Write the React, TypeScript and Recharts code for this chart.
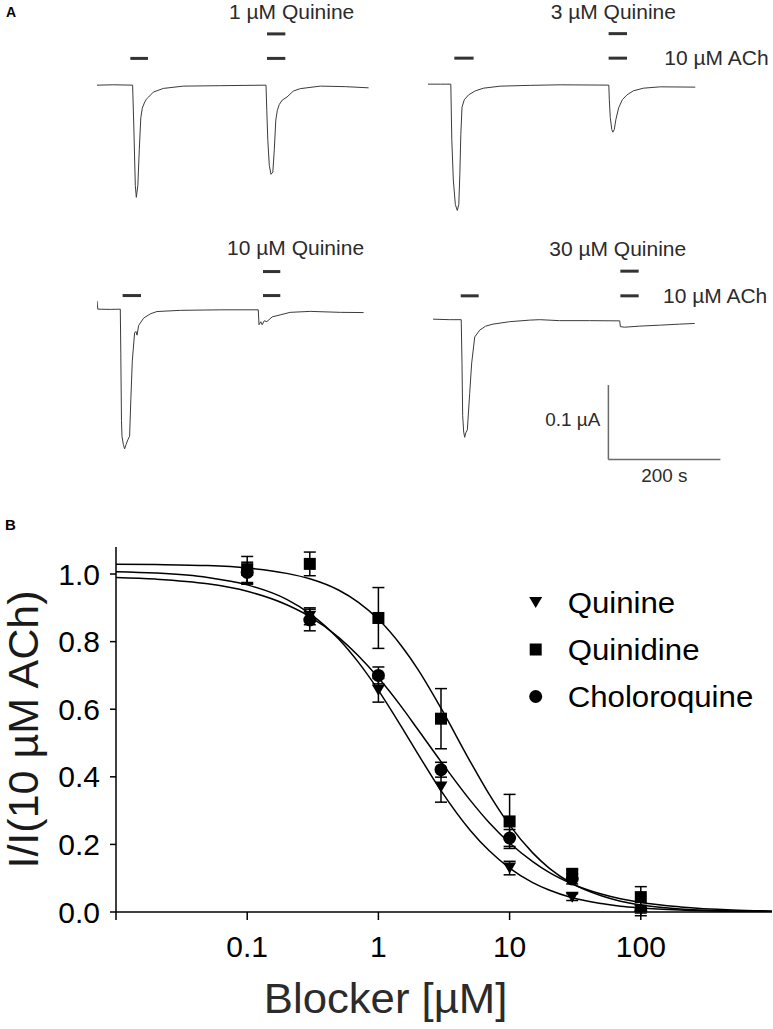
import React from 'react';
import {
  LineChart,
  Line,
  XAxis,
  YAxis,
  ReferenceLine,
  ReferenceDot,
  ComposedChart,
  Scatter,
  ErrorBar,
  Legend,
} from 'recharts';

const FONT = '"Liberation Sans", Arial, Helvetica, sans-serif';

// ---------------- Panel A : current traces (time s, current µA) ----------------
const trace1Raw: number[][] = [
  [0, 0], [30, 0.0005], [63.6, 0], [65.7, -0.055], [68.4, -0.135], [70.2, -0.151], [72.9, -0.135],
  [75.5, -0.087], [78.2, -0.044], [80.9, -0.031], [84.5, -0.024], [88, -0.019], [92.1, -0.016],
  [100.5, -0.0094], [118.4, -0.0044], [154, -0.0013], [220, -0.0007], [301.8, 0], [303.2, -0.034],
  [305, -0.074], [307.7, -0.108], [310.7, -0.12], [314, -0.117], [316.6, -0.087], [319.3, -0.047],
  [322, -0.034], [325.5, -0.026], [330.9, -0.02], [339.3, -0.016], [350.5, -0.008], [363, -0.0047],
  [398.8, -0.0013], [443.4, -0.002], [485, -0.0036],
];
const trace2Raw: number[][] = [
  [0, 0], [22, 0], [40.7, 0], [42.5, -0.075], [45.2, -0.129], [48.8, -0.162], [52.3, -0.17], [55, -0.162],
  [56.8, -0.122], [58.6, -0.068], [60.7, -0.031], [64.8, -0.021], [72.5, -0.0144], [84.5, -0.009],
  [99.3, -0.0054], [129, -0.0027], [182.7, -0.0016], [236, -0.0009], [322.9, -0.0013], [323.8, -0.021],
  [325.5, -0.045], [328.2, -0.061], [330, -0.0646], [332.7, -0.061], [335.4, -0.048], [340.4, -0.032],
  [347, -0.021], [355.4, -0.0144], [366.6, -0.009], [385, -0.0054], [414.8, -0.0036], [477.3, -0.004],
];
const trace3Raw: number[][] = [
  [0, 0.0112], [1.4, 0], [23.8, -0.0003], [41.6, 0], [42.5, -0.06], [43.7, -0.15], [44.6, -0.171],
  [47, -0.182], [49.3, -0.188], [52, -0.182], [55, -0.176], [58.2, -0.171], [60.5, -0.12], [63, -0.07],
  [67.1, -0.032], [69.5, -0.03], [71.5, -0.035], [74.3, -0.022], [83.2, -0.0121], [95.2, -0.0063],
  [107.1, -0.0032], [148.8, -0.0016], [220.2, -0.0009], [288, -0.0009], [289.3, -0.021], [292.5, -0.017],
  [295, -0.021], [298.6, -0.0157], [303.4, -0.0167], [312.9, -0.0104], [327.1, -0.0077], [345, -0.0043],
  [380.7, -0.003], [434.5, -0.0043], [476, -0.0046],
];
const trace4Raw: number[][] = [
  [0, 0], [29.8, -0.0007], [50.4, -0.0007], [51.8, -0.06], [53, -0.13], [54.8, -0.152], [56.6, -0.159],
  [58.5, -0.153], [61.3, -0.149], [65.5, -0.1], [69.1, -0.059], [74.5, -0.024], [83.4, -0.0148],
  [94.1, -0.0094], [107.1, -0.0067], [137, -0.0034], [172.7, -0.0013], [190.5, -0.0007], [226.2, -0.002],
  [279.8, -0.002], [333.4, -0.0023], [334.6, -0.0101], [342.3, -0.0108], [369.1, -0.0094],
  [404.8, -0.0081], [440.5, -0.0067], [467.3, -0.0058],
];

const traceTitles = ['1 µM Quinine', '3 µM Quinine', '10 µM Quinine', '30 µM Quinine'];
const achText = '10 µM ACh';
// ACh application windows [start s, end s]
const achWindows: number[][][] = [
  [[59.5, 91], [303.6, 336.3]],
  [[47, 81.4], [322.5, 355.4]],
  [[45.7, 78.6], [296.4, 327.3]],
  [[49.5, 81.6], [334.6, 367.3]],
];
// Quinine co-application window
const drugWindows: number[][] = [
  [303.6, 336.3],
  [322.5, 355.4],
  [296.4, 327.3],
  [334.6, 367.3],
];
const scaleBarCurrent = 0.1; // µA
const scaleBarTime = 200; // s
const scaleBarTexts = ['0.1 µA', '200 s'];

// ---------------- Panel B : concentration–response ----------------
const curveX = [0.01, 0.02, 0.05, 0.1, 0.2, 0.3, 0.5, 0.7, 1, 1.5, 2, 3, 5, 7, 10, 15, 20, 30, 50, 70, 100, 200, 500, 1000];
const quinineCurveY = [1.007, 1.003, 0.99, 0.968, 0.925, 0.883, 0.807, 0.74, 0.656, 0.548, 0.468, 0.359, 0.242, 0.181, 0.13, 0.087, 0.065, 0.042, 0.025, 0.017, 0.012, 0.006, 0.002, 0.001];
const quinidineCurveY = [1.029, 1.028, 1.025, 1.018, 1.002, 0.986, 0.952, 0.917, 0.866, 0.787, 0.718, 0.603, 0.446, 0.348, 0.257, 0.175, 0.13, 0.084, 0.048, 0.032, 0.021, 0.009, 0.003, 0.001];
const chloroquineCurveY = [0.99, 0.985, 0.971, 0.949, 0.909, 0.874, 0.812, 0.759, 0.693, 0.607, 0.54, 0.445, 0.331, 0.264, 0.204, 0.149, 0.117, 0.083, 0.053, 0.039, 0.028, 0.015, 0.006, 0.003];

const doseX = [0.1, 0.3, 1, 3, 10, 30, 100];
const quinineMean = [1.0, 0.875, 0.656, 0.37, 0.13, 0.044, 0.005];
const quinineErr = [0.03, 0.025, 0.035, 0.045, 0.02, 0.01, 0.008];
const quinidineMean = [1.012, 1.03, 0.87, 0.572, 0.268, 0.113, 0.044];
const quinidineErr = [0.04, 0.035, 0.09, 0.089, 0.08, 0.012, 0.031];
const chloroquineMean = [1.005, 0.864, 0.7, 0.421, 0.219, 0.098, 0.004];
const chloroquineErr = [0.03, 0.032, 0.025, 0.022, 0.025, 0.015, 0.015];

const seriesNames = ['Quinine', 'Quinidine', 'Choloroquine'];
const xTicks = [0.01, 0.1, 1, 10, 100];
const yTicks = [0, 0.2, 0.4, 0.6, 0.8, 1.0];
const xTitle = 'Blocker [µM]';
const yTitle = 'I/I(10 µM ACh)';

// ---------------- helpers ----------------
const toTI = (arr: number[][]) => arr.map(([t, i]) => ({ t, i }));
const toXY = (xs: number[], ys: number[], es?: number[]) =>
  xs.map((x, k) => ({ x, y: ys[k], e: es ? es[k] : 0 }));

const PX_PER_S = 0.56;
const PX_PER_UA = 743;
const T_DOMAIN: [number, number] = [0, 625];
const I_DOMAIN: [number, number] = [-0.26, 0.12];
const TW = (T_DOMAIN[1] - T_DOMAIN[0]) * PX_PER_S;
const TH = (I_DOMAIN[1] - I_DOMAIN[0]) * PX_PER_UA;

const traceLayout = [
  { left: 96.7, baseline: 85, achLevel: 0.036, drugLevel: 0.069, titleT: 347.5, titleI: 0.0987, achLabelT: null as number | null },
  { left: 427.7, baseline: 84.3, achLevel: 0.035, drugLevel: 0.068, titleT: 330.9, titleI: 0.0977, achLabelT: 422 },
  { left: 96.7, baseline: 309.3, achLevel: 0.0183, drugLevel: 0.0506, titleT: 354.6, titleI: 0.0821, achLabelT: null },
  { left: 433.3, baseline: 319, achLevel: 0.0314, drugLevel: 0.0646, titleT: 329.8, titleI: 0.0952, achLabelT: 410.7 },
];
const traces = [trace1Raw, trace2Raw, trace3Raw, trace4Raw].map(toTI);

// text slightly widened horizontally, as in the original figure
const WideText = ({ x, y, anchor, size, sx, fill, dy, children }: any) => (
  <g transform={`translate(${x},${y}) scale(${sx},1)`}>
    <text x={0} y={0} dy={dy} textAnchor={anchor} fontSize={size} fontFamily={FONT} fill={fill}>
      {children}
    </text>
  </g>
);

const textShape = (txt: string, anchor: 'start' | 'middle' | 'end', size: number) => (p: any) => (
  <WideText x={p.cx} y={p.cy} dy="0.36em" anchor={anchor} size={size} sx={1.05} fill="#2b2b2b">
    {txt}
  </WideText>
);

function TraceChart({ idx }: { idx: number }) {
  const lay = traceLayout[idx];
  const top = lay.baseline - I_DOMAIN[1] * PX_PER_UA;
  const showScale = idx === 3;
  const sbT = 313.2;
  const sbI = -0.0888;
  return (
    <div style={{ position: 'absolute', left: lay.left, top }}>
      <LineChart width={TW} height={TH} data={traces[idx]} margin={{ top: 0, right: 0, bottom: 0, left: 0 }}>
        <XAxis type="number" dataKey="t" domain={T_DOMAIN} hide allowDataOverflow />
        <YAxis type="number" dataKey="i" domain={I_DOMAIN} hide allowDataOverflow />
        <Line dataKey="i" type="linear" dot={false} stroke="#3a3a3a" strokeWidth={1} isAnimationActive={false} />
        {achWindows[idx].map(([a, b], k) => (
          <ReferenceLine
            key={'ach' + k}
            segment={[{ x: a, y: lay.achLevel }, { x: b, y: lay.achLevel }]}
            stroke="#333"
            strokeWidth={3}
          />
        ))}
        <ReferenceLine
          segment={[{ x: drugWindows[idx][0], y: lay.drugLevel }, { x: drugWindows[idx][1], y: lay.drugLevel }]}
          stroke="#333"
          strokeWidth={3}
        />
        <ReferenceDot x={lay.titleT} y={lay.titleI} r={0} shape={textShape(traceTitles[idx], 'middle', 20)} />
        {lay.achLabelT !== null && (
          <ReferenceDot x={lay.achLabelT} y={lay.achLevel} r={0} shape={textShape(achText, 'start', 20)} />
        )}
        {showScale && (
          <ReferenceLine
            segment={[{ x: sbT, y: sbI }, { x: sbT, y: sbI - scaleBarCurrent }]}
            stroke="#6a6a6a"
            strokeWidth={1.5}
          />
        )}
        {showScale && (
          <ReferenceLine
            segment={[{ x: sbT, y: sbI - scaleBarCurrent }, { x: sbT + scaleBarTime, y: sbI - scaleBarCurrent }]}
            stroke="#6a6a6a"
            strokeWidth={1.5}
          />
        )}
        {showScale && (
          <ReferenceDot x={sbT - 14.5} y={sbI - scaleBarCurrent * 0.46} r={0} shape={textShape(scaleBarTexts[0], 'end', 18)} />
        )}
        {showScale && (
          <ReferenceDot x={sbT + scaleBarTime / 2} y={sbI - scaleBarCurrent - 0.0212} r={0} shape={textShape(scaleBarTexts[1], 'middle', 18)} />
        )}
      </LineChart>
    </div>
  );
}

// ---------------- markers ----------------
const TriDown = (p: any) => {
  const { cx, cy } = p;
  if (cx == null || cy == null) return <g />;
  return <path d={`M${cx - 6.5},${cy - 5.5}L${cx + 6.5},${cy - 5.5}L${cx},${cy + 5.5}Z`} fill="#000" />;
};
const Sq = (p: any) => {
  const { cx, cy } = p;
  if (cx == null || cy == null) return <g />;
  return <rect x={cx - 6} y={cy - 6} width={12} height={12} fill="#000" />;
};
const Circ = (p: any) => {
  const { cx, cy } = p;
  if (cx == null || cy == null) return <g />;
  return <circle cx={cx} cy={cy} r={6.5} fill="#000" />;
};

const quinineCurve = toXY(curveX, quinineCurveY);
const quinidineCurve = toXY(curveX, quinidineCurveY);
const chloroquineCurve = toXY(curveX, chloroquineCurveY);
const quininePts = toXY(doseX, quinineMean, quinineErr);
const quinidinePts = toXY(doseX, quinidineMean, quinidineErr);
const chloroquinePts = toXY(doseX, chloroquineMean, chloroquineErr);

const LegendBox = () => (
  <svg width={250} height={150}>
    {seriesNames.map((name, k) => {
      const cy = 23.5 + k * 47;
      const cx = 15.7;
      const marker =
        k === 0 ? TriDown({ cx, cy }) : k === 1 ? Sq({ cx, cy }) : Circ({ cx, cy });
      return (
        <g key={name}>
          {marker}
          <WideText x={47.7} y={cy} dy="0.36em" anchor="start" size={30} sx={1.04} fill="#000">
            {name}
          </WideText>
        </g>
      );
    })}
  </svg>
);

function PanelB() {
  return (
    <div style={{ position: 'absolute', left: 0, top: 500 }}>
      <ComposedChart width={773} height={529} margin={{ top: 47, right: 1, bottom: 0, left: 0 }}>
        <XAxis
          type="number"
          dataKey="x"
          scale="log"
          domain={[0.01, 1000]}
          ticks={xTicks}
          tickFormatter={(v: number) => (v < 0.05 ? '' : String(v))}
          height={117}
          tickSize={8}
          tickMargin={16}
          stroke="#000"
          strokeWidth={1.5}
          tick={{ fontSize: 30, fill: '#000', fontFamily: FONT }}
          allowDataOverflow
          label={(props: any) => {
            const vb = props.viewBox;
            return (
              <WideText x={vb.x + 269.6} y={vb.y + 101.3} anchor="middle" size={42} sx={1.04} fill="#2b2b2b">
                {xTitle}
              </WideText>
            );
          }}
        />
        <YAxis
          type="number"
          dataKey="y"
          domain={[0, 1.08]}
          ticks={yTicks}
          tickFormatter={(v: number) => v.toFixed(1)}
          width={116}
          tickSize={6}
          tickMargin={10}
          stroke="#000"
          strokeWidth={1.5}
          tick={{ fontSize: 30, fill: '#000', fontFamily: FONT }}
          allowDataOverflow
          label={(props: any) => {
            const vb = props.viewBox;
            const x = vb.x + 23;
            const y = vb.y + vb.height / 2;
            return (
              <text x={x} y={y} dy="0.36em" textAnchor="middle" transform={`rotate(-90, ${x}, ${y})`} fontSize={43} fontFamily={FONT} fill="#1a1a1a">
                {yTitle}
              </text>
            );
          }}
        />
        <Line data={quinineCurve} dataKey="y" type="monotone" dot={false} stroke="#000" strokeWidth={1.5} isAnimationActive={false} legendType="none" />
        <Line data={quinidineCurve} dataKey="y" type="monotone" dot={false} stroke="#000" strokeWidth={1.5} isAnimationActive={false} legendType="none" />
        <Line data={chloroquineCurve} dataKey="y" type="monotone" dot={false} stroke="#000" strokeWidth={1.5} isAnimationActive={false} legendType="none" />
        <Scatter name={seriesNames[0]} data={quininePts} dataKey="y" shape={TriDown} isAnimationActive={false}>
          <ErrorBar dataKey="e" width={6} direction="y" stroke="#000" strokeWidth={1.5} />
        </Scatter>
        <Scatter name={seriesNames[1]} data={quinidinePts} dataKey="y" shape={Sq} isAnimationActive={false}>
          <ErrorBar dataKey="e" width={6} direction="y" stroke="#000" strokeWidth={1.5} />
        </Scatter>
        <Scatter name={seriesNames[2]} data={chloroquinePts} dataKey="y" shape={Circ} isAnimationActive={false}>
          <ErrorBar dataKey="e" width={6} direction="y" stroke="#000" strokeWidth={1.5} />
        </Scatter>
        <Legend
          layout="vertical"
          align="center"
          verticalAlign="middle"
          content={() => <LegendBox />}
          wrapperStyle={{ left: 520, top: 78.5, width: 250, height: 150 }}
        />
      </ComposedChart>
    </div>
  );
}

export default function App() {
  return (
    <div
      style={{
        position: 'absolute',
        left: 0,
        top: 0,
        width: 773,
        height: 1029,
        overflow: 'hidden',
        background: '#fff',
        fontFamily: FONT,
      }}
    >
      {[0, 1, 2, 3].map((k) => (
        <TraceChart key={k} idx={k} />
      ))}
      <svg style={{ position: 'absolute', left: 0, top: 0 }} width={30} height={30}>
        <text x={6} y={17} fontSize={14} fontWeight="bold" fontFamily={FONT} fill="#000">
          A
        </text>
      </svg>
      <svg style={{ position: 'absolute', left: 0, top: 510 }} width={30} height={30}>
        <text x={5} y={20} fontSize={15} fontWeight="bold" fontFamily={FONT} fill="#000">
          B
        </text>
      </svg>
      <PanelB />
    </div>
  );
}
